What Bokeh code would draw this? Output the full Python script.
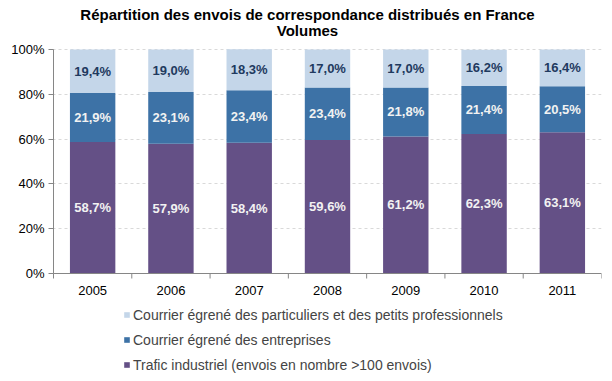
from bokeh.plotting import figure
from bokeh.models import ColumnDataSource, FixedTicker, Legend, LegendItem, Label, LabelSet
from bokeh.core.properties import value
from bokeh.embed import file_html
from bokeh.resources import INLINE

years = ["2005", "2006", "2007", "2008", "2009", "2010", "2011"]
industriel = [58.7, 57.9, 58.4, 59.6, 61.2, 62.3, 63.1]
entreprises = [21.9, 23.1, 23.4, 23.4, 21.8, 21.4, 20.5]
particuliers = [19.4, 19.0, 18.3, 17.0, 17.0, 16.2, 16.4]
y_ticks = [0, 20, 40, 60, 80, 100]
series_names = [
    "Courrier égrené des particuliers et des petits professionnels",
    "Courrier égrené des entreprises",
    "Trafic industriel (envois en nombre >100 envois)",
]
title_lines = ["Répartition des envois de correspondance distribués en France", "Volumes"]

C_PART = "#C4D6E9"
C_ENT = "#3D72A6"
C_IND = "#645086"
C_AXIS = "#868686"
FONT = "Liberation Sans"

# ---- layout geometry (figure pixels) ----
FIG_W, FIG_H = 604, 373
PLOT_L, PLOT_R = 53, 601      # x of category range start / end
PLOT_T, PLOT_B = 49, 273      # y of 100% / 0%
FRAME_L = PLOT_L - 1
n = len(years)
SX = (PLOT_R - PLOT_L) / n
SY = (PLOT_B - PLOT_T) / (y_ticks[-1] - y_ticks[0])

def dx(px):
    return (px - PLOT_L) / SX

def dy(py):
    return (PLOT_B - py) / SY

def fmt(v):
    return f"{v:.1f}".replace(".", ",") + "%"

xs = [i + 0.5 for i in range(n)]
bounds = list(range(n + 1))
src = ColumnDataSource(dict(
    x=xs, industriel=industriel, entreprises=entreprises, particuliers=particuliers,
    y_ind=[a / 2 for a in industriel],
    y_ent=[a + b / 2 for a, b in zip(industriel, entreprises)],
    y_part=[a + b + c / 2 for a, b, c in zip(industriel, entreprises, particuliers)],
    t_ind=[fmt(v) for v in industriel],
    t_ent=[fmt(v) for v in entreprises],
    t_part=[fmt(v) for v in particuliers],
))

frame_w = FIG_W - FRAME_L - 3
p = figure(frame_width=frame_w, frame_height=FIG_H, output_backend="svg", toolbar_location=None,
           x_range=(dx(FRAME_L), dx(FRAME_L + frame_w)),
           y_range=(dy(FIG_H), dy(0)),
           x_axis_location=None,
           min_border_left=FRAME_L, min_border_right=3, min_border_top=0, min_border_bottom=0)
p.outline_line_color = None

# grid
p.xgrid.grid_line_color = None
p.ygrid.grid_line_color = "#D9D9D9"
p.ygrid.grid_line_dash = "3 3"

r = p.vbar_stack(["industriel", "entreprises", "particuliers"], x="x", width=0.58,
                 color=[C_IND, C_ENT, C_PART], line_color=None, source=src)

lab_common = dict(source=src, x="x", text_align="center", text_baseline="middle",
                  text_font=value(FONT), text_font_size="13px", text_font_style="bold")
p.add_layout(LabelSet(y="y_ind", text="t_ind", text_color="#F2F2F2", **lab_common))
p.add_layout(LabelSet(y="y_ent", text="t_ent", text_color="#F2F2F2", **lab_common))
p.add_layout(LabelSet(y="y_part", text="t_part", text_color="#1F3A5F", **lab_common))

# y axis (ticks and labels from Bokeh, line drawn over the value range only)
p.yaxis.ticker = FixedTicker(ticks=y_ticks, minor_ticks=[])
p.yaxis.major_label_overrides = {t: f"{t}%" for t in y_ticks}
p.yaxis.major_tick_out = 4
p.yaxis.major_tick_in = 1
p.yaxis.major_tick_line_color = C_AXIS
p.yaxis.axis_line_color = None
p.yaxis.major_label_text_font = FONT
p.yaxis.major_label_text_font_size = "13px"
p.yaxis.major_label_text_color = "#000000"
p.yaxis.major_label_standoff = 4
p.segment(x0=[bounds[0]], y0=[y_ticks[0]], x1=[bounds[0]], y1=[y_ticks[-1]],
          line_color=C_AXIS, line_width=1)

# x axis: line, tick marks at category boundaries, labels at bar centres
p.segment(x0=[bounds[0]], y0=[y_ticks[0]], x1=[bounds[-1]], y1=[y_ticks[0]],
          line_color=C_AXIS, line_width=1)
p.segment(x0=bounds, y0=[y_ticks[0]] * len(bounds), x1=bounds,
          y1=[y_ticks[0] - 5 / SY] * len(bounds), line_color=C_AXIS, line_width=1)
p.text(x=xs, y=[dy(290)] * n, text=years, text_align="center", text_baseline="middle",
       text_font=value(FONT), text_font_size="13px", text_color="#000000")

# titles
for line, py in zip(title_lines, [14, 30]):
    p.add_layout(Label(x=dx(307), y=dy(py), text=line,
                       text_align="center", text_baseline="middle", text_font=FONT,
                       text_font_size="15px", text_font_style="bold", text_color="#000000"))

items = [LegendItem(label=series_names[0], renderers=[r[2]]),
         LegendItem(label=series_names[1], renderers=[r[1]]),
         LegendItem(label=series_names[2], renderers=[r[0]])]
legend = Legend(items=items, location=(123 - FRAME_L, 0), orientation="vertical",
                border_line_alpha=0, background_fill_alpha=0,
                label_text_font=FONT, label_text_font_size="14px",
                glyph_width=7, glyph_height=7, spacing=8, padding=0,
                label_standoff=3, margin=0, label_height=17)
p.add_layout(legend, "center")

open("out.html", "w").write(file_html(p, INLINE))
